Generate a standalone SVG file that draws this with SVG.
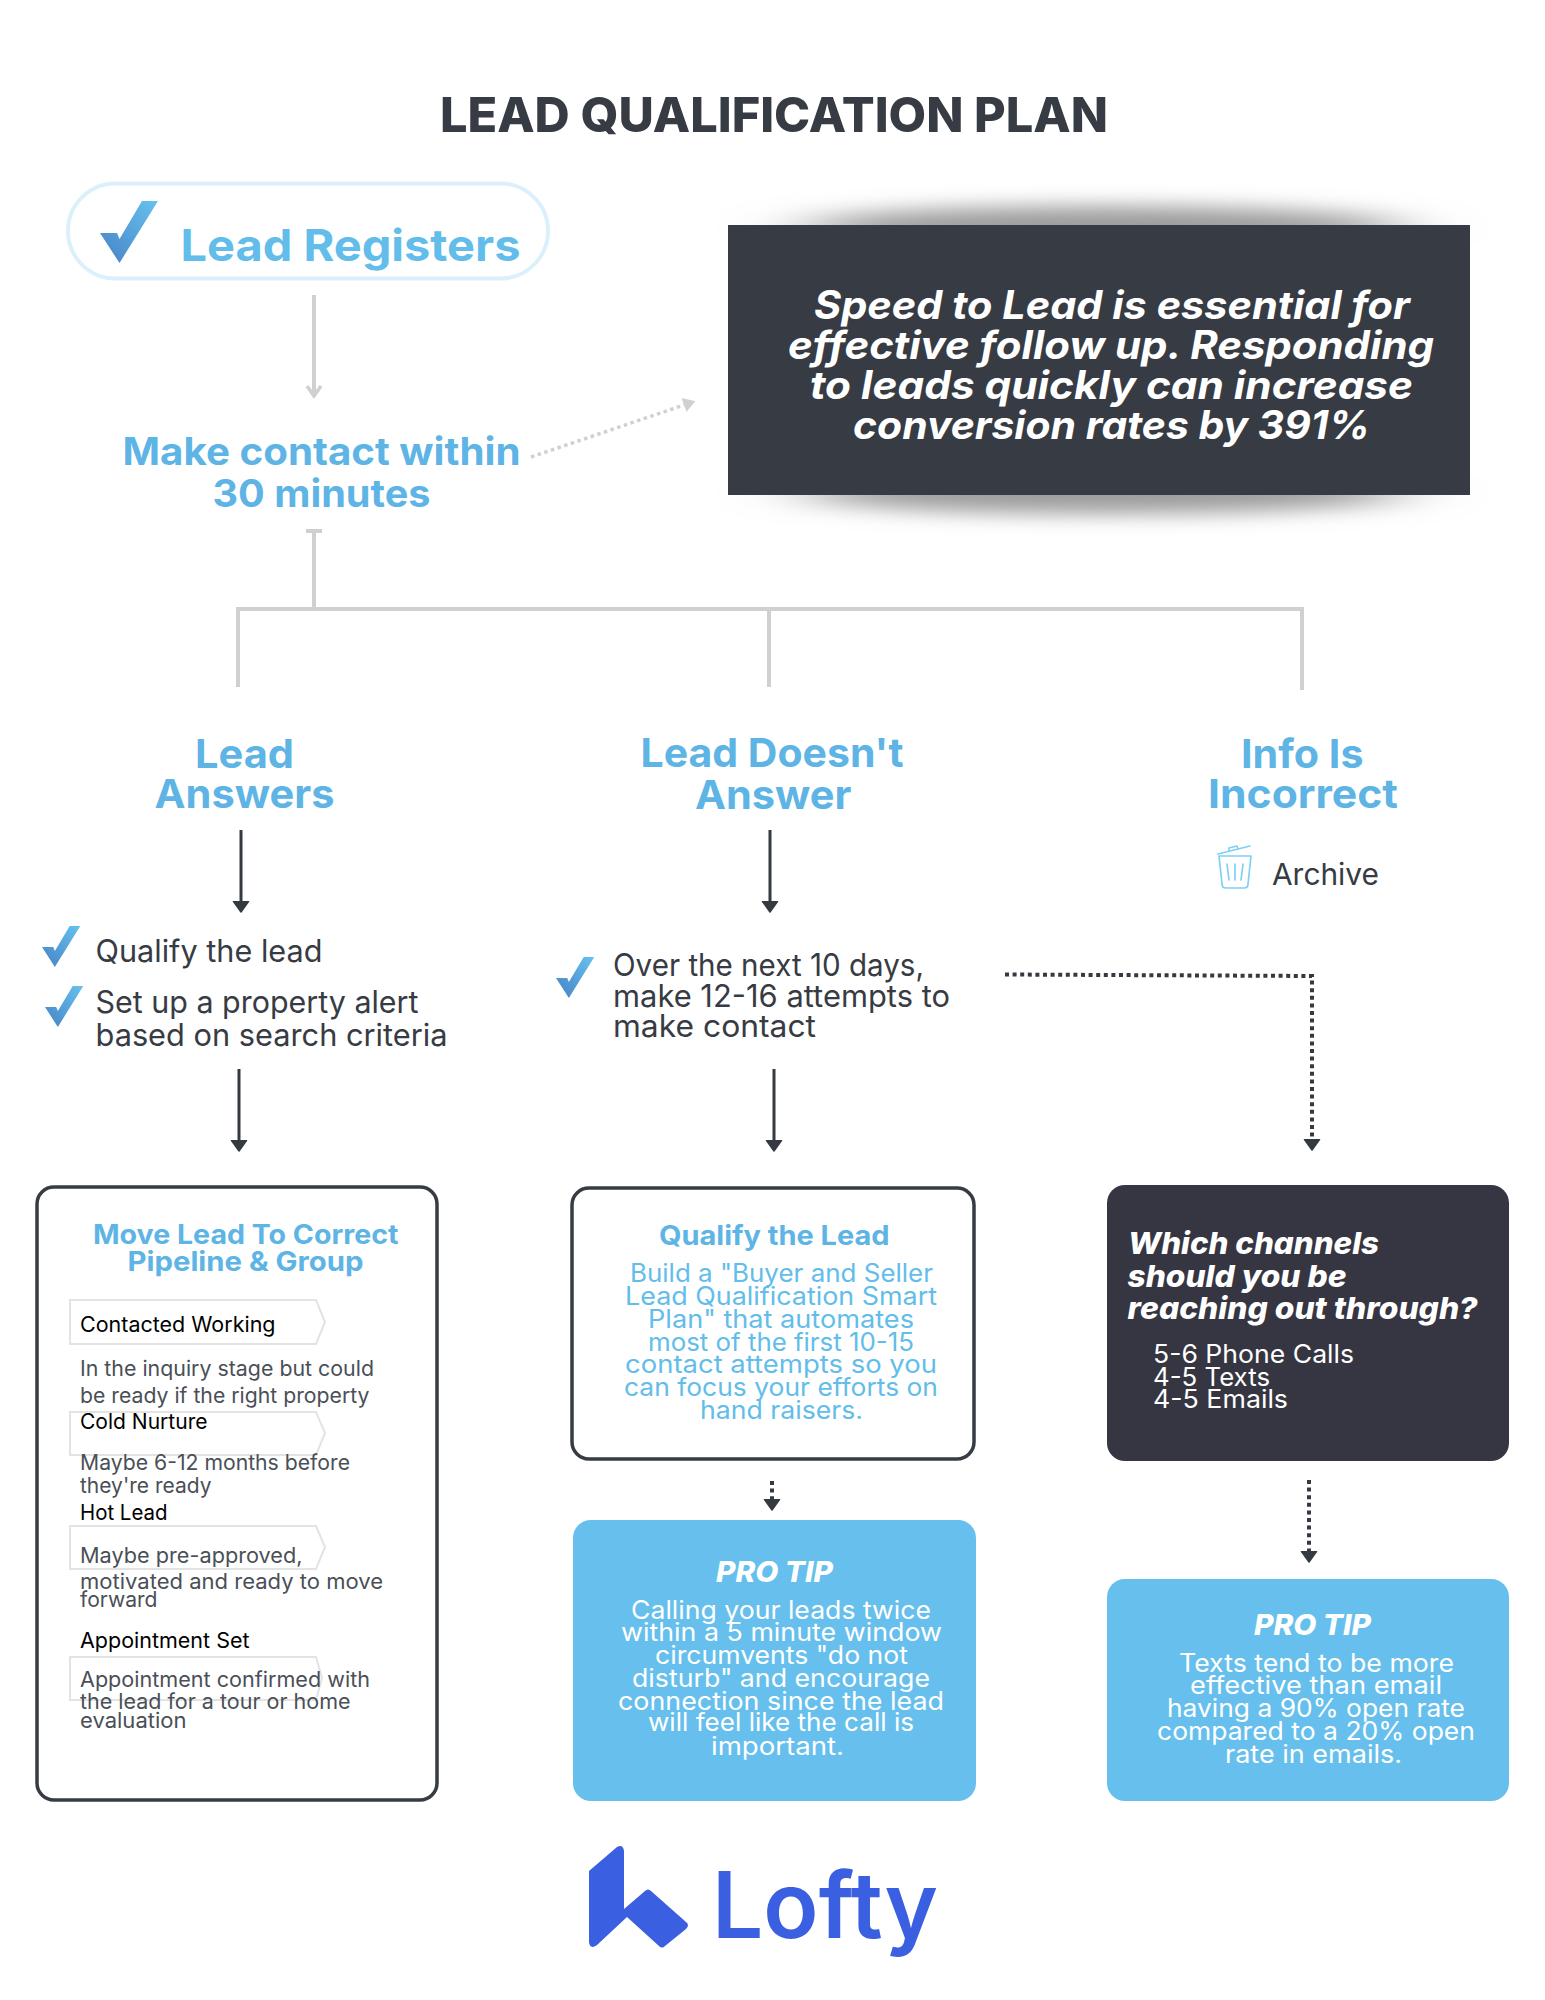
<svg xmlns="http://www.w3.org/2000/svg" xmlns:xlink="http://www.w3.org/1999/xlink" width="1545" height="2000" viewBox="0 0 1545 2000">
<style>
text{font-family:"Inter","Liberation Sans",sans-serif;white-space:pre}
.hd{font-weight:700;font-size:40px;fill:#5db4e5}
.ttl{font-weight:700;font-size:27px;fill:#5db4e5}
.body{font-weight:400;font-size:31px;fill:#373b43}
.sm{font-weight:400;font-size:21px;fill:#4a4f57}
.lab{font-weight:400;font-size:21px;fill:#000}
.md{font-weight:400;font-size:25px;fill:#63bdea}
.wh{font-weight:400;font-size:25px;fill:#fff}
.pro{font-weight:800;font-style:italic;font-size:28px;fill:#fff}
.q{font-weight:800;font-style:italic;font-size:30px;fill:#fff}
.sp{font-weight:700;font-style:italic;font-size:39px;fill:#fff}
.gray{stroke:#cfd0d2;stroke-width:4;fill:none}
.dark{stroke:#343a40;stroke-width:3;fill:none}
.dot{stroke:#343a40;stroke-width:4;stroke-dasharray:4 3.6;fill:none}
.pent{fill:#fff;stroke:#e3e3e3;stroke-width:2}
.tr{stroke:#7fd0f5;stroke-width:1.7;fill:none;stroke-linecap:round;stroke-linejoin:round}
</style>
<defs>
<linearGradient id="cg" x1="0" y1="1" x2="1" y2="0"><stop offset="0" stop-color="#4682c6"/><stop offset="1" stop-color="#66c2ee"/></linearGradient>
<polygon id="chk" points="0,32 17,32 19.5,38 42,0 58,0 19.5,62" fill="url(#cg)"/>
<marker id="ad" viewBox="0 -10 14 20" refX="0" refY="0" markerWidth="14" markerHeight="20" markerUnits="userSpaceOnUse" orient="auto"><path d="M0.5,-7.5 L11,0 L0.5,7.5 Z" fill="#343a40" stroke="#343a40" stroke-width="1.5" stroke-linejoin="round"/></marker>
<marker id="ag" viewBox="-13 -9 15 18" refX="0" refY="0" markerWidth="15" markerHeight="18" markerUnits="userSpaceOnUse" orient="auto"><path d="M-11,-7 L-1,0 L-11,7" fill="none" stroke="#cfd0d2" stroke-width="3.5"/></marker>
<marker id="at" viewBox="0 -9 13 18" refX="0" refY="0" markerWidth="13" markerHeight="18" markerUnits="userSpaceOnUse" orient="auto"><path d="M0,-7.5 L12,0 L0,7.5 Z" fill="#cfd0d2"/></marker>
<filter id="bl" x="-25%" y="-200%" width="150%" height="500%"><feGaussianBlur stdDeviation="40 10"/></filter>
</defs>
<rect width="1545" height="2000" fill="#fff"/>
<g id="title"><text x="440" y="131.5" font-size="48" font-weight="800" fill="#373b43" textLength="668" lengthAdjust="spacingAndGlyphs">LEAD QUALIFICATION PLAN</text></g>
<g id="connectors">
<line class="gray" x1="314" y1="295" x2="314" y2="397" marker-end="url(#ag)" stroke-width="3.5"/>
<line x1="531" y1="457" x2="684" y2="405" stroke="#cfd0d2" stroke-width="3.5" stroke-dasharray="3.5 3.5" fill="none" marker-end="url(#at)"/>
<path class="gray" d="M314,531 V609 M306,531 H322 M238,687 V609 H1302 V690 M769,609 V687"/>
<line class="dark" x1="241" y1="830" x2="241" y2="901" marker-end="url(#ad)"/>
<line class="dark" x1="770" y1="830" x2="770" y2="901" marker-end="url(#ad)"/>
<line class="dark" x1="239" y1="1069" x2="239" y2="1140" marker-end="url(#ad)"/>
<line class="dark" x1="774" y1="1069" x2="774" y2="1140" marker-end="url(#ad)"/>
<path class="dot" d="M1005,974.5 L1312,976 V1139" marker-end="url(#ad)"/>
<line class="dot" x1="772" y1="1481" x2="772" y2="1499" marker-end="url(#ad)"/>
<line class="dot" x1="1309" y1="1480" x2="1309" y2="1551" marker-end="url(#ad)"/>
</g>
<g id="node-lead-registers">
<rect x="68" y="183.5" width="480" height="95" rx="47.5" fill="#fff" stroke="#dcf0fb" stroke-width="4"/>
<use xlink:href="#chk" href="#chk" x="100" y="201"/>
<text x="180.5" y="261" font-size="44" font-weight="700" fill="#63bdea" textLength="340" lengthAdjust="spacingAndGlyphs">Lead Registers</text>
</g>
<g id="node-make-contact" font-size="38" font-weight="700" fill="#5db4e5">
<text x="122.5" y="465" textLength="398" lengthAdjust="spacingAndGlyphs">Make contact within</text>
<text x="212.5" y="506.5" textLength="218" lengthAdjust="spacingAndGlyphs">30 minutes</text>
</g>
<g id="node-speed">
<ellipse cx="1103" cy="226" rx="300" ry="20" fill="#9c9c9c" filter="url(#bl)"/>
<ellipse cx="1103" cy="494" rx="300" ry="20" fill="#9c9c9c" filter="url(#bl)"/>
<rect x="728" y="225" width="742" height="270" fill="#373b43"/>
<text class="sp" x="814" y="318.5" textLength="596" lengthAdjust="spacingAndGlyphs">Speed to Lead is essential for</text>
<text class="sp" x="788" y="358.5" textLength="646" lengthAdjust="spacingAndGlyphs">effective follow up. Responding</text>
<text class="sp" x="810" y="398.5" textLength="603" lengthAdjust="spacingAndGlyphs">to leads quickly can increase</text>
<text class="sp" x="853" y="438.5" textLength="517" lengthAdjust="spacingAndGlyphs">conversion rates by 391%</text>
</g>
<g id="node-lead-answers">
<text class="hd" x="195" y="768" textLength="99" lengthAdjust="spacingAndGlyphs">Lead</text>
<text class="hd" x="154.5" y="808" textLength="180" lengthAdjust="spacingAndGlyphs">Answers</text>
</g>
<g id="node-lead-doesnt">
<text class="hd" x="640.5" y="767" textLength="263" lengthAdjust="spacingAndGlyphs">Lead Doesn't</text>
<text class="hd" x="695" y="809" textLength="156.5" lengthAdjust="spacingAndGlyphs">Answer</text>
</g>
<g id="node-info-incorrect">
<text class="hd" x="1241" y="768" textLength="122.5" lengthAdjust="spacingAndGlyphs">Info Is</text>
<text class="hd" x="1208" y="808" textLength="190" lengthAdjust="spacingAndGlyphs">Incorrect</text>
</g>
<g id="node-archive">
<path class="tr" d="M1218,854 L1250,846 M1229,851 L1229,848 L1237,846 L1238,849"/>
<path class="tr" d="M1219,856 H1251 L1248,884 Q1248,888 1244,888 H1226 Q1222,888 1222,884 Z"/>
<path class="tr" d="M1227,864 L1229,880 M1235,864 V880 M1243,864 L1241,880"/>
<text x="1272" y="884.5" font-size="30" fill="#373b43" textLength="107" lengthAdjust="spacingAndGlyphs">Archive</text>
</g>
<g id="node-answers-list">
<use xlink:href="#chk" href="#chk" transform="translate(42,926) scale(.66)"/>
<use xlink:href="#chk" href="#chk" transform="translate(45,986) scale(.66)"/>
<text class="body" x="95.5" y="962" textLength="227" lengthAdjust="spacingAndGlyphs">Qualify the lead</text>
<text class="body" x="95.5" y="1013" textLength="323" lengthAdjust="spacingAndGlyphs">Set up a property alert</text>
<text class="body" x="95.5" y="1046" textLength="352" lengthAdjust="spacingAndGlyphs">based on search criteria</text>
</g>
<g id="node-attempts">
<use xlink:href="#chk" href="#chk" transform="translate(556,957) scale(.66)"/>
<text class="body" x="613" y="976" textLength="311" lengthAdjust="spacingAndGlyphs">Over the next 10 days,</text>
<text class="body" x="613" y="1007" textLength="337" lengthAdjust="spacingAndGlyphs">make 12-16 attempts to</text>
<text class="body" x="613" y="1037" textLength="203" lengthAdjust="spacingAndGlyphs">make contact</text>
</g>
<g id="node-pipeline">
<rect x="37" y="1187" width="400" height="613" rx="17" fill="#fff" stroke="#373b43" stroke-width="3.5"/>
<text class="ttl" x="93" y="1244" textLength="305.5" lengthAdjust="spacingAndGlyphs">Move Lead To Correct</text>
<text class="ttl" x="127.5" y="1271" textLength="236" lengthAdjust="spacingAndGlyphs">Pipeline &amp; Group</text>
<polygon class="pent" points="70,1300 316,1300 325,1322 316,1344 70,1344"/>
<polygon class="pent" points="70,1412 316,1412 325,1433 316,1455 70,1455"/>
<polygon class="pent" points="70,1526 316,1526 325,1547 316,1569 70,1569"/>
<polygon class="pent" points="70,1657 316,1657 322,1678 316,1700 70,1700"/>
<text class="lab" x="80" y="1332" textLength="195.5" lengthAdjust="spacingAndGlyphs">Contacted Working</text>
<text class="sm" x="80" y="1376" textLength="294" lengthAdjust="spacingAndGlyphs">In the inquiry stage but could</text>
<text class="sm" x="80" y="1403" textLength="289.5" lengthAdjust="spacingAndGlyphs">be ready if the right property</text>
<text class="lab" x="80" y="1429" textLength="127.5" lengthAdjust="spacingAndGlyphs">Cold Nurture</text>
<text class="sm" x="80" y="1470" textLength="270" lengthAdjust="spacingAndGlyphs">Maybe 6-12 months before</text>
<text class="sm" x="80" y="1493" textLength="131.5" lengthAdjust="spacingAndGlyphs">they're ready</text>
<text class="lab" x="80" y="1520" textLength="87.5" lengthAdjust="spacingAndGlyphs">Hot Lead</text>
<text class="sm" x="80" y="1563" textLength="222.5" lengthAdjust="spacingAndGlyphs">Maybe pre-approved,</text>
<text class="sm" x="80" y="1589" textLength="303" lengthAdjust="spacingAndGlyphs">motivated and ready to move</text>
<text class="sm" x="80" y="1607" textLength="77.5" lengthAdjust="spacingAndGlyphs">forward</text>
<text class="lab" x="80" y="1648" textLength="169.5" lengthAdjust="spacingAndGlyphs">Appointment Set</text>
<text class="sm" x="80" y="1687" textLength="290" lengthAdjust="spacingAndGlyphs">Appointment confirmed with</text>
<text class="sm" x="80" y="1709" textLength="270.5" lengthAdjust="spacingAndGlyphs">the lead for a tour or home</text>
<text class="sm" x="80" y="1728" textLength="106.5" lengthAdjust="spacingAndGlyphs">evaluation</text>
</g>
<g id="node-qualify">
<rect x="572" y="1188" width="402" height="271" rx="17" fill="#fff" stroke="#373b43" stroke-width="3.5"/>
<text class="ttl" x="659" y="1245" textLength="230.5" lengthAdjust="spacingAndGlyphs">Qualify the Lead</text>
<text class="md" x="630" y="1282" textLength="303" lengthAdjust="spacingAndGlyphs">Build a "Buyer and Seller</text>
<text class="md" x="625" y="1305" textLength="312" lengthAdjust="spacingAndGlyphs">Lead Qualification Smart</text>
<text class="md" x="648" y="1328" textLength="266" lengthAdjust="spacingAndGlyphs">Plan" that automates</text>
<text class="md" x="648" y="1351" textLength="266" lengthAdjust="spacingAndGlyphs">most of the first 10-15</text>
<text class="md" x="625" y="1373" textLength="312" lengthAdjust="spacingAndGlyphs">contact attempts so you</text>
<text class="md" x="624" y="1396" textLength="314" lengthAdjust="spacingAndGlyphs">can focus your efforts on</text>
<text class="md" x="700" y="1419" textLength="163" lengthAdjust="spacingAndGlyphs">hand raisers.</text>
</g>
<g id="node-protip-1">
<rect x="573" y="1520" width="403" height="281" rx="18" fill="#66bfec"/>
<text class="pro" x="716" y="1582" textLength="117" lengthAdjust="spacingAndGlyphs">PRO TIP</text>
<text class="wh" x="631" y="1619" textLength="300" lengthAdjust="spacingAndGlyphs">Calling your leads twice</text>
<text class="wh" x="621" y="1641" textLength="321" lengthAdjust="spacingAndGlyphs">within a 5 minute window</text>
<text class="wh" x="655" y="1664" textLength="253" lengthAdjust="spacingAndGlyphs">circumvents "do not</text>
<text class="wh" x="632" y="1687" textLength="298" lengthAdjust="spacingAndGlyphs">disturb" and encourage</text>
<text class="wh" x="618" y="1710" textLength="326" lengthAdjust="spacingAndGlyphs">connection since the lead</text>
<text class="wh" x="648" y="1731" textLength="266" lengthAdjust="spacingAndGlyphs">will feel like the call is</text>
<text class="wh" x="711" y="1755" textLength="133" lengthAdjust="spacingAndGlyphs">important.</text>
</g>
<g id="node-channels">
<rect x="1107" y="1185" width="402" height="276" rx="18" fill="#363542"/>
<text class="q" x="1128" y="1254" textLength="251" lengthAdjust="spacingAndGlyphs">Which channels</text>
<text class="q" x="1127.5" y="1287" textLength="219" lengthAdjust="spacingAndGlyphs">should you be</text>
<text class="q" x="1127.5" y="1319" textLength="350" lengthAdjust="spacingAndGlyphs">reaching out through?</text>
<text class="wh" x="1153" y="1363" textLength="201" lengthAdjust="spacingAndGlyphs">5-6 Phone Calls</text>
<text class="wh" x="1153" y="1386" textLength="117" lengthAdjust="spacingAndGlyphs">4-5 Texts</text>
<text class="wh" x="1153" y="1408" textLength="135" lengthAdjust="spacingAndGlyphs">4-5 Emails</text>
</g>
<g id="node-protip-2">
<rect x="1107" y="1579" width="402" height="222" rx="18" fill="#66bfec"/>
<text class="pro" x="1254" y="1635" textLength="117" lengthAdjust="spacingAndGlyphs">PRO TIP</text>
<text class="wh" x="1179" y="1672" textLength="275" lengthAdjust="spacingAndGlyphs">Texts tend to be more</text>
<text class="wh" x="1190" y="1694" textLength="252" lengthAdjust="spacingAndGlyphs">effective than email</text>
<text class="wh" x="1167" y="1717" textLength="298" lengthAdjust="spacingAndGlyphs">having a 90% open rate</text>
<text class="wh" x="1157" y="1740" textLength="318" lengthAdjust="spacingAndGlyphs">compared to a 20% open</text>
<text class="wh" x="1225" y="1763" textLength="177" lengthAdjust="spacingAndGlyphs">rate in emails.</text>
</g>
<g id="logo">
<path d="M589,1871 L617,1847 Q623,1844 624,1851 L624,1909 L645,1891 Q648,1888 651,1891 L686,1922 Q690,1925 686,1929 L665,1946 Q662,1949 659,1946 L627,1917 L597,1945 Q590,1950 589,1942 Z" fill="#3a5fe0"/>
<text x="712" y="1938" font-size="92" font-weight="600" fill="#3a5fe0" textLength="226" lengthAdjust="spacingAndGlyphs">Lofty</text>
</g>
</svg>
